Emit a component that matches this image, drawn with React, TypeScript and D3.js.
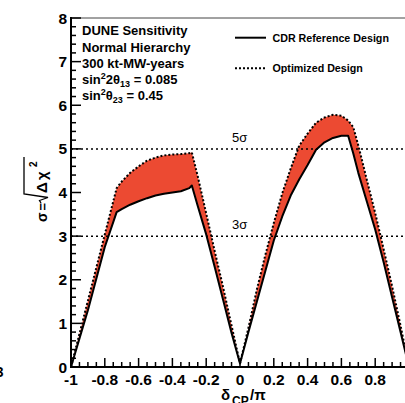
import React from "react";
import * as d3 from "d3";

const deltaCP = [-1, -0.9, -0.8, -0.73, -0.7, -0.65, -0.6, -0.55, -0.5, -0.45, -0.4, -0.35, -0.3, -0.285, -0.25, -0.2, -0.15, -0.1, -0.05, 0, 0.05, 0.1, 0.15, 0.2, 0.25, 0.3, 0.35, 0.4, 0.45, 0.5, 0.55, 0.6, 0.64, 0.67, 0.7, 0.75, 0.8, 0.85, 0.9, 0.95, 1];
const cdrSigma = [0, 1.3, 2.75, 3.55, 3.62, 3.72, 3.8, 3.87, 3.93, 3.97, 4.0, 4.03, 4.1, 4.16, 3.69, 3.04, 2.3, 1.54, 0.78, 0.08, 0.8, 1.5, 2.2, 2.9, 3.45, 3.93, 4.3, 4.63, 4.98, 5.15, 5.25, 5.3, 5.3, 4.9, 4.45, 3.8, 3.15, 2.4, 1.6, 0.8, 0];
const optSigma = [0, 1.52, 3.04, 4.1, 4.25, 4.45, 4.6, 4.73, 4.8, 4.85, 4.87, 4.88, 4.9, 4.92, 4.37, 3.52, 2.66, 1.83, 0.95, 0.08, 0.9, 1.78, 2.57, 3.3, 3.98, 4.55, 5.07, 5.35, 5.6, 5.72, 5.78, 5.76, 5.65, 5.5, 5.08, 4.3, 3.53, 2.7, 1.85, 0.95, 0];
const xTickLabels = ["-1", "-0.8", "-0.6", "-0.4", "-0.2", "0", "0.2", "0.4", "0.6", "0.8", "1"];
const yTickLabels = ["0", "1", "2", "3", "4", "5", "6", "7", "8"];
const sigmaLevels = [5, 3];
const legendItems = ["CDR Reference Design", "Optimized Design"];

const W = 405;
const H = 403;
const FONT = "'Liberation Sans', Arial, Helvetica, sans-serif";

export default function App() {
  const x = d3.scaleLinear().domain([-1, 1]).range([71, 409]);
  const y = d3.scaleLinear().domain([0, 8]).range([367, 18]);
  const pts = deltaCP.map((d, i) => ({ d, lo: cdrSigma[i], hi: optSigma[i] }));

  const area = d3
    .area<{ d: number; lo: number; hi: number }>()
    .x((p) => x(p.d))
    .y0((p) => y(p.lo))
    .y1((p) => y(p.hi));
  const lineLo = d3
    .line<{ d: number; lo: number; hi: number }>()
    .x((p) => x(p.d))
    .y((p) => y(p.lo));
  const lineHi = d3
    .line<{ d: number; lo: number; hi: number }>()
    .x((p) => x(p.d))
    .y((p) => y(p.hi));

  const xMinor = d3.range(0, 41).map((i) => -1 + i * 0.05);
  const yMinor = d3.range(0, 41).map((i) => i * 0.2);

  const x0 = x(-1);
  const y0 = y(0);

  const tx = 47;
  const ty = 222;

  return (
    <svg
      width={W}
      height={H}
      style={{ position: "absolute", left: 0, top: 0, background: "#fff" }}
      fontFamily={FONT}
    >
      <rect x={0} y={0} width={W} height={H} fill="#fff" />
      <path d={area(pts) || ""} fill="#ec4a32" stroke="none" />
      <path d={lineLo(pts) || ""} fill="none" stroke="#000" strokeWidth={2} strokeLinejoin="round" />
      <path d={lineHi(pts) || ""} fill="none" stroke="#000" strokeWidth={2} strokeDasharray="2 2" />

      {sigmaLevels.map((s) => (
        <g key={s}>
          <line x1={x0} x2={W} y1={y(s)} y2={y(s)} stroke="#000" strokeWidth={1.5} strokeDasharray="2 3" />
          <text x={232} y={y(s) - 7} fontSize={13} fill="#000">
            {s}σ
          </text>
        </g>
      ))}

      <line x1={x0} x2={W} y1={18} y2={18} stroke="#444" strokeWidth={1} />
      <line x1={x0} x2={x0} y1={17} y2={y0 + 1} stroke="#000" strokeWidth={2} />
      <line x1={x0 - 1} x2={W} y1={y0} y2={y0} stroke="#000" strokeWidth={2} />

      {yMinor.map((v, i) => {
        const major = i % 5 === 0;
        return (
          <line key={"ym" + i} x1={x0} x2={x0 + (major ? 10 : 5)} y1={y(v)} y2={y(v)} stroke="#000" strokeWidth={1.5} />
        );
      })}
      {yTickLabels.map((t) => (
        <text key={"yl" + t} x={67} y={y(+t) + 5.5} textAnchor="end" fontSize={15.5} fontWeight="bold">
          {t}
        </text>
      ))}

      {xMinor.map((v, i) => {
        const major = i % 4 === 0;
        return (
          <line key={"xm" + i} x1={x(v)} x2={x(v)} y1={y0} y2={y0 - (major ? 9 : 5)} stroke="#000" strokeWidth={1.5} />
        );
      })}
      {xTickLabels.map((t) => (
        <text key={"xl" + t} x={x(+t)} y={385} textAnchor="middle" fontSize={15.5} fontWeight="bold">
          {t}
        </text>
      ))}

      <text x={221} y={400} fontSize={15} fontWeight="bold">δ</text>
      <text x={232} y={405} fontSize={12} fontWeight="bold">CP</text>
      <text x={250} y={400} fontSize={15} fontWeight="bold">/π</text>

      <g transform={`translate(${tx},${ty}) rotate(-90)`} fontWeight="bold">
        <text x={0} y={0} fontSize={14}>σ</text>
        <text x={11.5} y={0} fontSize={13}>=</text>
        <path d="M19,-6 L21.5,-7.5 L24.5,1 L28,-23 L65,-23" fill="none" stroke="#000" strokeWidth={1.3} />
        <text x={29} y={0} fontSize={15}>Δ</text>
        <text x={42} y={0} fontSize={15}>χ</text>
        <text x={55} y={-10} fontSize={10}>2</text>
      </g>

      <text x={3.5} y={377} textAnchor="end" fontSize={14} fontWeight="bold">3</text>

      <g fontSize={13} fontWeight="bold">
        <text x={82} y={35}>DUNE Sensitivity</text>
        <text x={82} y={51.5}>Normal Hierarchy</text>
        <text x={82} y={67.5}>300 kt-MW-years</text>
        <text x={82} y={84}>
          sin<tspan fontSize={9} dy={-5}>2</tspan>
          <tspan dy={5}>2θ</tspan>
          <tspan fontSize={9} dy={3}>13</tspan>
          <tspan dy={-3}> = 0.085</tspan>
        </text>
        <text x={82} y={100}>
          sin<tspan fontSize={9} dy={-5}>2</tspan>
          <tspan dy={5}>θ</tspan>
          <tspan fontSize={9} dy={3}>23</tspan>
          <tspan dy={-3}> = 0.45</tspan>
        </text>
      </g>

      <line x1={235} x2={266} y1={37.7} y2={37.7} stroke="#000" strokeWidth={2} />
      <line x1={235} x2={266} y1={68.3} y2={68.3} stroke="#000" strokeWidth={2} strokeDasharray="2 2" />
      <text x={272.5} y={42} fontSize={10.7} fontWeight="bold">{legendItems[0]}</text>
      <text x={272.5} y={72} fontSize={10.7} fontWeight="bold">{legendItems[1]}</text>
    </svg>
  );
}
